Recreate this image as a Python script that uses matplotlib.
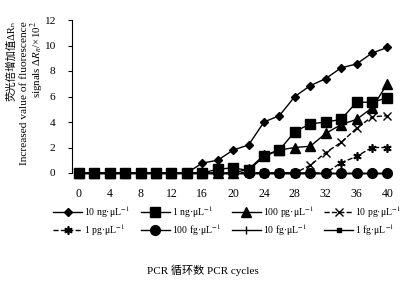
import matplotlib
matplotlib.use('Agg')
import matplotlib.pyplot as plt

plt.rcParams['font.family'] = ['Liberation Serif', 'Noto Sans CJK SC', 'DejaVu Sans']
plt.rcParams['mathtext.fontset'] = 'stix'

cycles = [0, 2, 4, 6, 8, 10, 12, 14, 16, 18, 20, 22, 24, 26, 28, 30, 32, 34, 36, 38, 40]

ng10 = [0, 0, 0, 0, 0, 0, 0, 0, 0.78, 1.0, 1.8, 2.2, 4.0, 4.5, 6.0, 6.85, 7.4, 8.25, 8.55, 9.4, 9.85]
ng1 = [0, 0, 0, 0, 0, 0, 0, 0, 0, 0.3, 0.4, 0.2, 1.3, 1.8, 3.25, 3.85, 4.0, 4.2, 5.55, 5.55, 5.9]
pg100 = [0, 0, 0, 0, 0, 0, 0, 0, 0, 0, 0, 0.3, 1.4, 1.8, 2.0, 2.1, 3.1, 3.8, 4.2, 5.1, 7.0]
pg10 = [0, 0, 0, 0, 0, 0, 0, 0, 0, 0, 0, 0, 0, 0, 0, 0.6, 1.6, 2.4, 3.5, 4.4, 4.5]
pg1 = [0, 0, 0, 0, 0, 0, 0, 0, 0, 0, 0, 0, 0, 0, 0, 0, 0, 0.8, 1.3, 2.0, 2.0]
fg100 = [0] * 21
fg10 = [0] * 21
fg1 = [0] * 21

labels = ['10 ng·μL$^{-1}$', '1 ng·μL$^{-1}$', '100 pg·μL$^{-1}$', '10 pg·μL$^{-1}$',
          '1 pg·μL$^{-1}$', '100 fg·μL$^{-1}$', '10 fg·μL$^{-1}$', '1 fg·μL$^{-1}$']

fig = plt.figure(figsize=(4.11, 2.81), dpi=100)
ax = fig.add_axes([72 / 411, 1 - 173 / 281, 320 / 411, 153 / 281])

kw = dict(color='black', lw=1, clip_on=False)
h = []
h += ax.plot(cycles, ng10, marker='D', ms=4.5, **kw)
h += ax.plot(cycles, ng1, marker='s', ms=6.5, **kw)
h += ax.plot(cycles, pg100, marker='^', ms=6.5, **kw)
h += ax.plot(cycles, pg10, marker='x', ms=6, mew=1, ls='--', **kw)
h += ax.plot(cycles, pg1, marker=(6, 2, 0), ms=6, mew=1.2, ls='--', **kw)
h += ax.plot(cycles, fg100, marker='o', ms=7, **kw)
h += ax.plot(cycles, fg10, marker='|', ms=6, **kw)
h += ax.plot(cycles, fg1, marker='s', ms=3, **kw)

ax.set_xlim(-0.9, 40.6)
ax.set_ylim(0, 12)
ax.set_xticks(range(0, 41, 4))
ax.set_yticks(range(0, 13, 2))
for s in ['top', 'right', 'bottom']:
    ax.spines[s].set_visible(False)
ax.spines['left'].set_linewidth(0.8)
ax.tick_params(axis='x', length=0, pad=11, labelsize=8.5)
ax.tick_params(axis='y', length=3, width=0.8, pad=9, labelsize=8.2)

# legend filled row by row
order = [0, 4, 1, 5, 2, 6, 3, 7]
fig.legend([h[i] for i in order], [labels[i] for i in order], ncol=4, frameon=False,
           loc='center', bbox_to_anchor=(227 / 411, 1 - 221 / 281), fontsize=7,
           handlelength=3.0, handletextpad=0.2, columnspacing=1.1,
           labelspacing=0.25, borderpad=0)

# y label: three lines, ends aligned at the top
top = 1 - 21 / 281
fig.text(11.5 / 411, top, '荧光倍增加值ΔRₙ', rotation=90,
         ha='center', va='top', fontsize=7.5)
fig.text(24.5 / 411, top, 'Increased value of fluorescence', rotation=90,
         ha='center', va='top', fontsize=8.2)
fig.text(37 / 411, top, 'signals Δ$R_n$/×10$^2$', rotation=90,
         ha='center', va='top', fontsize=7.8)

fig.text(203 / 411, 1 - 270 / 281, 'PCR 循环数 PCR cycles',
         ha='center', va='center', fontsize=8)

fig.savefig('out.png', dpi=100)
